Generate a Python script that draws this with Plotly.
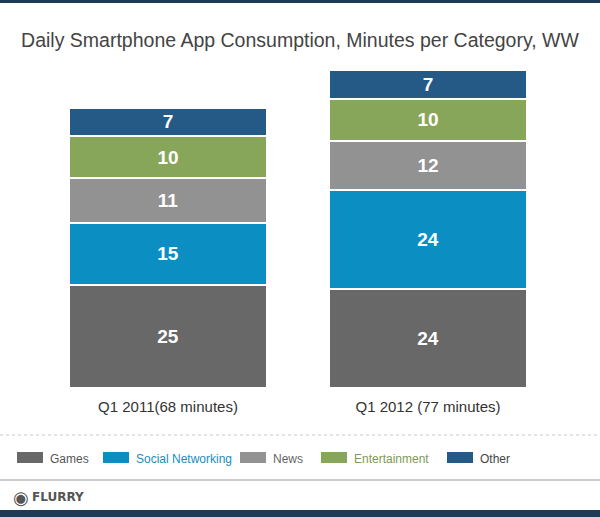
import plotly.graph_objects as go

periods = ["Q1 2011(68 minutes)", "Q1 2012 (77 minutes)"]
series_names = ["Games", "Social Networking", "News", "Entertainment", "Other"]
games = [25, 24]
social = [15, 24]
news = [11, 12]
entertainment = [10, 10]
other = [7, 7]
series_values = [games, social, news, entertainment, other]

colors = ["#686868", "#0b8ec2", "#929292", "#88a65a", "#265a86"]
legend_text_colors = ["#555555", "#1a8cc0", "#666666", "#7f9a55", "#444444"]

W, H = 600, 517
L, R, T, B = 38, 42, 58, 129
PW, PH = W - L - R, H - T - B
FONT = "Liberation Sans, Arial"

def px(x):
    return (x - L) / PW

def py(y):
    return (H - B - y) / PH

fig = go.Figure()
for name, vals, col in zip(series_names, series_values, colors):
    fig.add_trace(go.Bar(
        x=periods, y=vals, name=name,
        marker=dict(color=col, line=dict(color="white", width=2)),
        text=vals, textposition="inside", insidetextanchor="middle",
        textfont=dict(color="white", size=19, family=FONT, weight="bold"),
        width=0.76, showlegend=False, hoverinfo="skip",
    ))

shapes = []
annotations = []
legend_x = [17, 103, 240, 321, 447]
for i, (name, col, tcol) in enumerate(zip(series_names, colors, legend_text_colors)):
    x0 = legend_x[i]
    shapes.append(dict(type="rect", xref="paper", yref="paper",
                       x0=px(x0), x1=px(x0 + 26), y0=py(463), y1=py(452),
                       fillcolor=col, line=dict(width=0)))
    annotations.append(dict(text=name, xref="paper", yref="paper",
                            x=px(x0 + 31), y=py(459), xanchor="left", yanchor="middle",
                            showarrow=False,
                            font=dict(size=12, color=tcol, family=FONT)))

# decorative lines / bars
shapes.append(dict(type="line", xref="paper", yref="paper", x0=px(0), x1=px(600),
                   y0=py(435), y1=py(435), line=dict(color="#c8c8c8", width=1, dash="dot")))
shapes.append(dict(type="line", xref="paper", yref="paper", x0=px(0), x1=px(600),
                   y0=py(480), y1=py(480), line=dict(color="#9a9a9a", width=1)))
shapes.append(dict(type="rect", xref="paper", yref="paper", x0=px(0), x1=px(600),
                   y0=py(517), y1=py(510), fillcolor="#1d3b57", line=dict(width=0)))
shapes.append(dict(type="rect", xref="paper", yref="paper", x0=px(0), x1=px(600),
                   y0=py(3), y1=py(0), fillcolor="#1d3b57", line=dict(width=0)))

annotations.append(dict(text="◉", xref="paper", yref="paper",
                        x=px(11), y=py(497), xanchor="left", yanchor="middle",
                        showarrow=False,
                        font=dict(size=18, color="#555555", family="DejaVu Sans")))
annotations.append(dict(text="<b>FLURRY</b>", xref="paper", yref="paper",
                        x=px(30), y=py(497), xanchor="left", yanchor="middle",
                        showarrow=False,
                        font=dict(size=12, color="#555555", family="DejaVu Sans")))

fig.update_layout(
    width=W, height=H,
    margin=dict(l=L, r=R, t=T, b=B),
    paper_bgcolor="white", plot_bgcolor="white",
    barmode="stack", bargap=0.24,
    title=dict(text="Daily Smartphone App Consumption, Minutes per Category, WW",
               x=px(300), xref="paper", y=1 - 40 / H, yanchor="middle",
               xanchor="center",
               font=dict(size=19.5, color="#444444", family=FONT)),
    xaxis=dict(showline=False, showgrid=False, ticks="", range=[-0.5, 1.5],
               ticklabelstandoff=8, fixedrange=True,
               tickfont=dict(size=15, color="#333333", family=FONT)),
    yaxis=dict(visible=False, range=[0, 80], fixedrange=True),
    shapes=shapes, annotations=annotations,
)
fig.write_html("out.html", config={"displayModeBar": False},
               post_script="document.body.style.margin='0';document.body.style.padding='0';")
